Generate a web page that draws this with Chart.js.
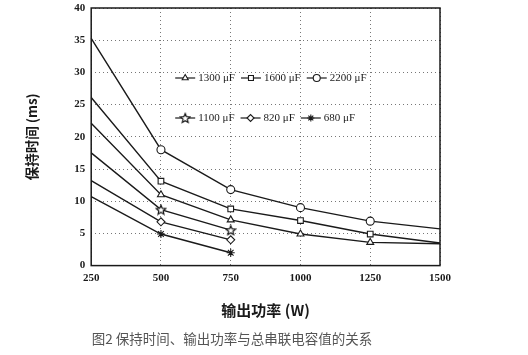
<!DOCTYPE html>
<html><head><meta charset="utf-8">
<script src="https://cdn.jsdelivr.net/npm/chart.js@4"></script>
<style>html,body{margin:0;padding:0;background:#fff;}#wrap{width:528px;height:355px;}</style>
</head><body><div id="wrap"><canvas id="c" width="528" height="355"></canvas></div>
<script>
const powers = [250, 500, 750, 1000, 1250, 1500];
const labels = ['1300 μF', '1600 μF', '2200 μF', '1100 μF', '820 μF', '680 μF'];
const c1300 = [22.1, 11.0, 7.1, 4.9, 3.6, 3.4];
const c1600 = [26.1, 13.1, 8.8, 7.0, 4.9, 3.5];
const c2200 = [35.3, 18.0, 11.8, 9.0, 6.9, 5.7];
const c1100 = [17.5, 8.7, 5.5];
const c820 = [13.2, 6.8, 4.0];
const c680 = [10.7, 4.9, 2.0];
const yTicks = [0, 5, 10, 15, 20, 25, 30, 35, 40];
const xTicks = [250, 500, 750, 1000, 1250, 1500];
const yTitle = '保持时间 (ms)';
const xTitle = '输出功率 (W)';
const caption = '图2 保持时间、输出功率与总串联电容值的关系';

// five-pointed star outline as a canvas point style
function makeStar(size) {
  const c = document.createElement('canvas');
  c.width = size; c.height = size;
  const g = c.getContext('2d');
  const cx = size / 2, cy = size / 2 + 0.5, R = size / 2 - 1, r = R * 0.45;
  g.beginPath();
  for (let i = 0; i < 10; i++) {
    const a = -Math.PI / 2 + i * Math.PI / 5;
    const rr = i % 2 === 0 ? R : r;
    const px = cx + rr * Math.cos(a), py = cy + rr * Math.sin(a);
    if (i === 0) g.moveTo(px, py); else g.lineTo(px, py);
  }
  g.closePath();
  g.fillStyle = '#fff'; g.fill();
  g.strokeStyle = '#1a1a1a'; g.lineWidth = 1.2; g.stroke();
  return c;
}
const starImg = makeStar(12);

const series = [c1300, c1600, c2200, c1100, c820, c680];
const styles = ['triangle', 'rect', 'circle', starImg, 'rectRot', 'star'];

const datasets = series.map((vals, i) => ({
  label: labels[i],
  data: vals.map((v, j) => ({ x: powers[j], y: v })),
  borderColor: '#1a1a1a',
  borderWidth: 1.4,
  backgroundColor: '#fff',
  pointStyle: styles[i],
  pointBorderColor: '#1a1a1a',
  pointBorderWidth: 1.1,
  pointBackgroundColor: '#fff',
  pointRadius: ctx => {
    const x = ctx.raw && ctx.raw.x;
    return (x === xTicks[0] || x === xTicks[xTicks.length - 1]) ? 0 : 4;
  },
  tension: 0,
  fill: false,
  clip: false
}));

const framePlugin = {
  id: 'frame',
  afterDraw(chart) {
    const { ctx, chartArea: a } = chart;
    ctx.save();
    ctx.strokeStyle = '#1a1a1a';
    ctx.lineWidth = 1.5;
    ctx.strokeRect(a.left, a.top, a.right - a.left, a.bottom - a.top);
    ctx.restore();
  }
};

const legendPlugin = {
  id: 'inLegend',
  afterDatasetsDraw(chart) {
    const { ctx, chartArea: a } = chart;
    ctx.save();
    ctx.font = '11px "Liberation Serif", serif';
    ctx.textBaseline = 'middle';
    const rows = [[0, 1, 2], [3, 4, 5]];
    const rowY = [a.top + 70, a.top + 110];
    rows.forEach((row, ri) => {
      let x = a.left + 84;
      const y = rowY[ri];
      row.forEach(di => {
        const ds = chart.data.datasets[di];
        ctx.strokeStyle = '#1a1a1a'; ctx.lineWidth = 1.2;
        ctx.beginPath(); ctx.moveTo(x, y); ctx.lineTo(x + 20, y); ctx.stroke();
        ctx.fillStyle = '#fff'; ctx.strokeStyle = '#1a1a1a'; ctx.lineWidth = 1.1;
        Chart.helpers.drawPoint(ctx, { pointStyle: ds.pointStyle, radius: 3.5, borderWidth: 1.1, rotation: 0 }, x + 10, y);
        ctx.fillStyle = '#1a1a1a';
        ctx.fillText(ds.label, x + 23, y);
        x += 23 + ctx.measureText(ds.label).width + 6;
      });
    });
    ctx.restore();
  }
};

const gridOpts = { color: '#777', lineWidth: 1, drawTicks: false, borderDash: [1, 3] };
const borderOpts = { display: false, dash: [1, 3] };

new Chart(document.getElementById('c'), {
  type: 'line',
  data: { datasets },
  plugins: [framePlugin, legendPlugin],
  options: {
    responsive: false,
    animation: false,
    layout: { padding: { left: 24, right: 88, top: 8, bottom: 8 } },
    plugins: {
      legend: { display: false },
      tooltip: { enabled: false },
      title: {
        display: true,
        position: 'bottom',
        text: caption,
        color: '#555',
        font: { family: '"Noto Sans CJK SC", sans-serif', size: 13.5, weight: 'normal' },
        padding: { top: 12, bottom: 0 }
      }
    },
    scales: {
      x: {
        type: 'linear',
        min: 250, max: 1500,
        afterBuildTicks: s => { s.ticks = xTicks.map(v => ({ value: v })); },
        grid: gridOpts,
        border: borderOpts,
        ticks: { color: '#1a1a1a', padding: 6, maxRotation: 0, callback: v => String(v), font: { family: '"Liberation Serif", serif', size: 11, weight: 'bold' } },
        title: { display: true, text: xTitle, color: '#1a1a1a', padding: { top: 10, bottom: 0 }, font: { family: '"Noto Sans CJK SC", sans-serif', size: 15, weight: 'bold' } }
      },
      y: {
        min: 0, max: 40,
        afterBuildTicks: s => { s.ticks = yTicks.map(v => ({ value: v })); },
        afterFit: s => { s.paddingTop = 0; },
        grid: gridOpts,
        border: borderOpts,
        ticks: { color: '#1a1a1a', padding: 6, callback: v => String(v), font: { family: '"Liberation Serif", serif', size: 11, weight: 'bold' } },
        title: { display: true, text: yTitle, color: '#1a1a1a', padding: { top: 0, bottom: 28 }, font: { family: '"Noto Sans CJK SC", sans-serif', size: 13.5, weight: 'bold' } }
      }
    }
  }
});
</script></body></html>
